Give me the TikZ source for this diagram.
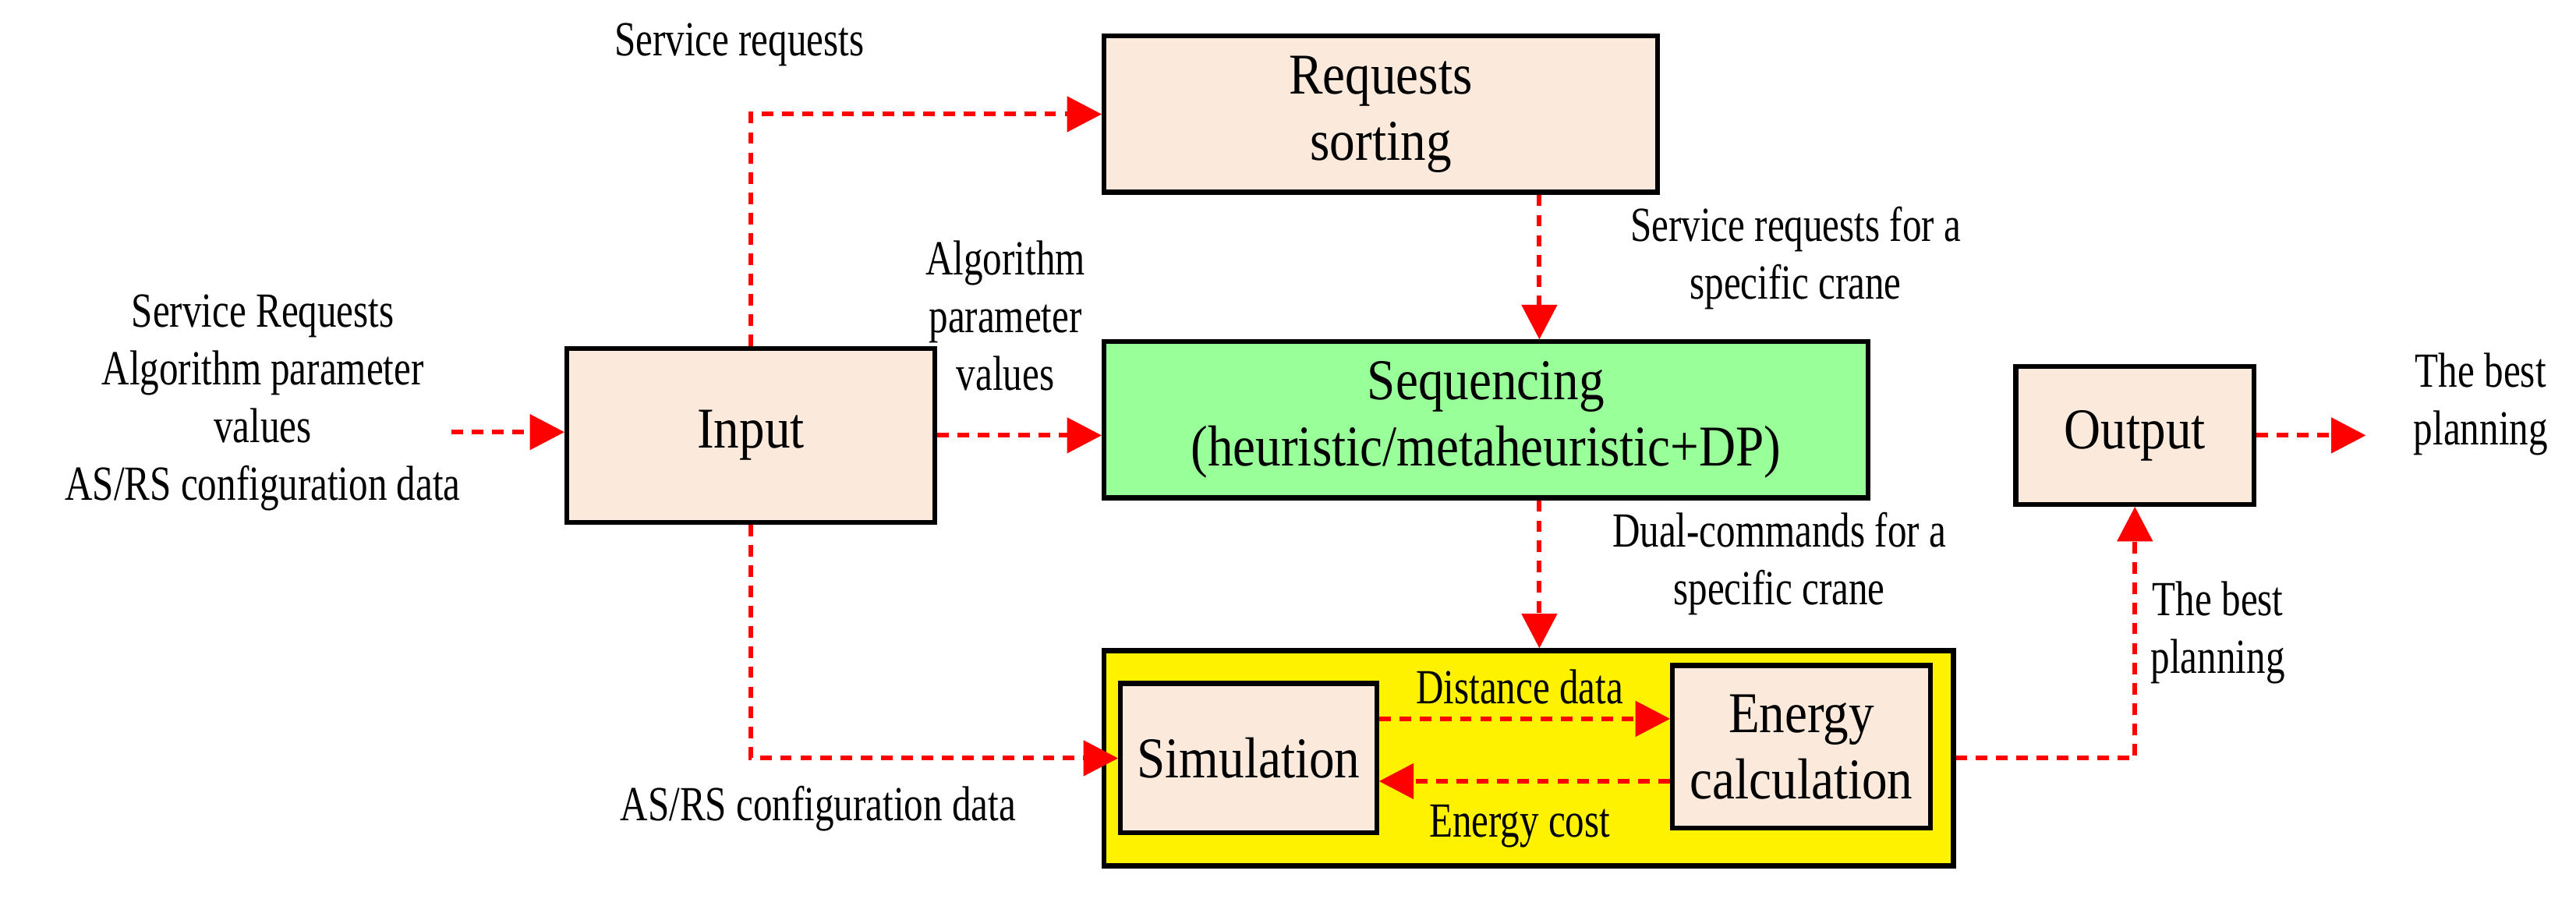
\documentclass[tikz,border=0pt]{standalone}
\usepackage{fontspec}
\setmainfont{Liberation Serif}
\newfontfamily\boxfont{Liberation Serif}[FakeStretch=0.88]
\newfontfamily\labfont{Liberation Serif}[FakeStretch=0.78]
\usetikzlibrary{arrows.meta}
\definecolor{peach}{HTML}{FBE9DC}
\definecolor{lgreen}{HTML}{99FF99}
\begin{document}
\begin{tikzpicture}[x=0.02cm,y=-0.02cm,
  box/.style={draw=black,line width=1.7pt,fill=peach,inner sep=0pt,align=center,font=\boxfont\fontsize{20}{23}\selectfont},
  lab/.style={align=center,font=\labfont\fontsize{17}{20}\selectfont,inner sep=0pt},
  arr/.style={draw=red,line width=1.6pt,dash pattern=on 4pt off 3pt,-{Triangle[length=0.42cm,width=0.44cm,fill=red,line width=0pt]}}]
\useasboundingbox (0,0) rectangle (1568,547);
\node[box,minimum width=337*0.02cm,minimum height=95*0.02cm] (sort) at (840.5,69.5) {Requests\\sorting};
\node[box,minimum width=224*0.02cm,minimum height=106*0.02cm] (in) at (457,265) {Input};
\node[box,fill=lgreen,minimum width=465*0.02cm,minimum height=95*0.02cm] (seq) at (904.5,255.5) {Sequencing\\(heuristic/metaheuristic+DP)};
\node[box,minimum width=145*0.02cm,minimum height=84*0.02cm] (out) at (1299.5,265) {Output};
\node[box,fill=yellow,minimum width=517*0.02cm,minimum height=131*0.02cm] (yel) at (930.5,461.5) {};
\node[box,minimum width=156*0.02cm,minimum height=91*0.02cm] (sim) at (760,461.5) {Simulation};
\node[box,minimum width=157*0.02cm,minimum height=99*0.02cm] (en) at (1096.5,454.5) {Energy\\calculation};
\coordinate (src) at (275,263);
\coordinate (ax) at (937,0);
\coordinate (dst) at (1440,265);
\draw[arr] (src) -- (src -| in.west);
\draw[arr] (in.north) |- (sort.west);
\draw[arr] (in.east) -- (in.east -| seq.west);
\draw[arr] (sort.south -| ax) -- (seq.north -| ax);
\draw[arr] (seq.south -| ax) -- (yel.north -| ax);
\draw[arr] (in.south) |- (sim.west);
\draw[arr] ([yshift=-0.46cm]sim.north east) -- ([yshift=-0.46cm]sim.north east -| en.west);
\draw[arr] ([yshift=0.6cm]en.south west) -- ([yshift=0.6cm]en.south west -| sim.east);
\draw[arr] (yel.east) -| (out.south);
\draw[arr] (out.east) -- (dst);
\node[lab] (l1) at (450,27) {Service requests};
\node[lab] (l2) at (612,192) {Algorithm\\parameter\\values};
\node[lab] (l3) at (160,245) {Service Requests\\Algorithm parameter\\values\\AS/RS configuration data};
\node[lab] (l4) at (1093,157) {Service requests for a\\specific crane};
\node[lab] (l5) at (1083,343) {Dual-commands for a\\specific crane};
\node[lab] (l6) at (1350,385) {The best\\planning};
\node[lab] (l7) at (1510,246) {The best\\planning};
\node[lab] (l8) at (498,492) {AS/RS configuration data};
\node[lab] (l9) at (925,418) {Distance data};
\node[lab] (l10) at (925,503) {Energy cost};
\end{tikzpicture}
\end{document}
